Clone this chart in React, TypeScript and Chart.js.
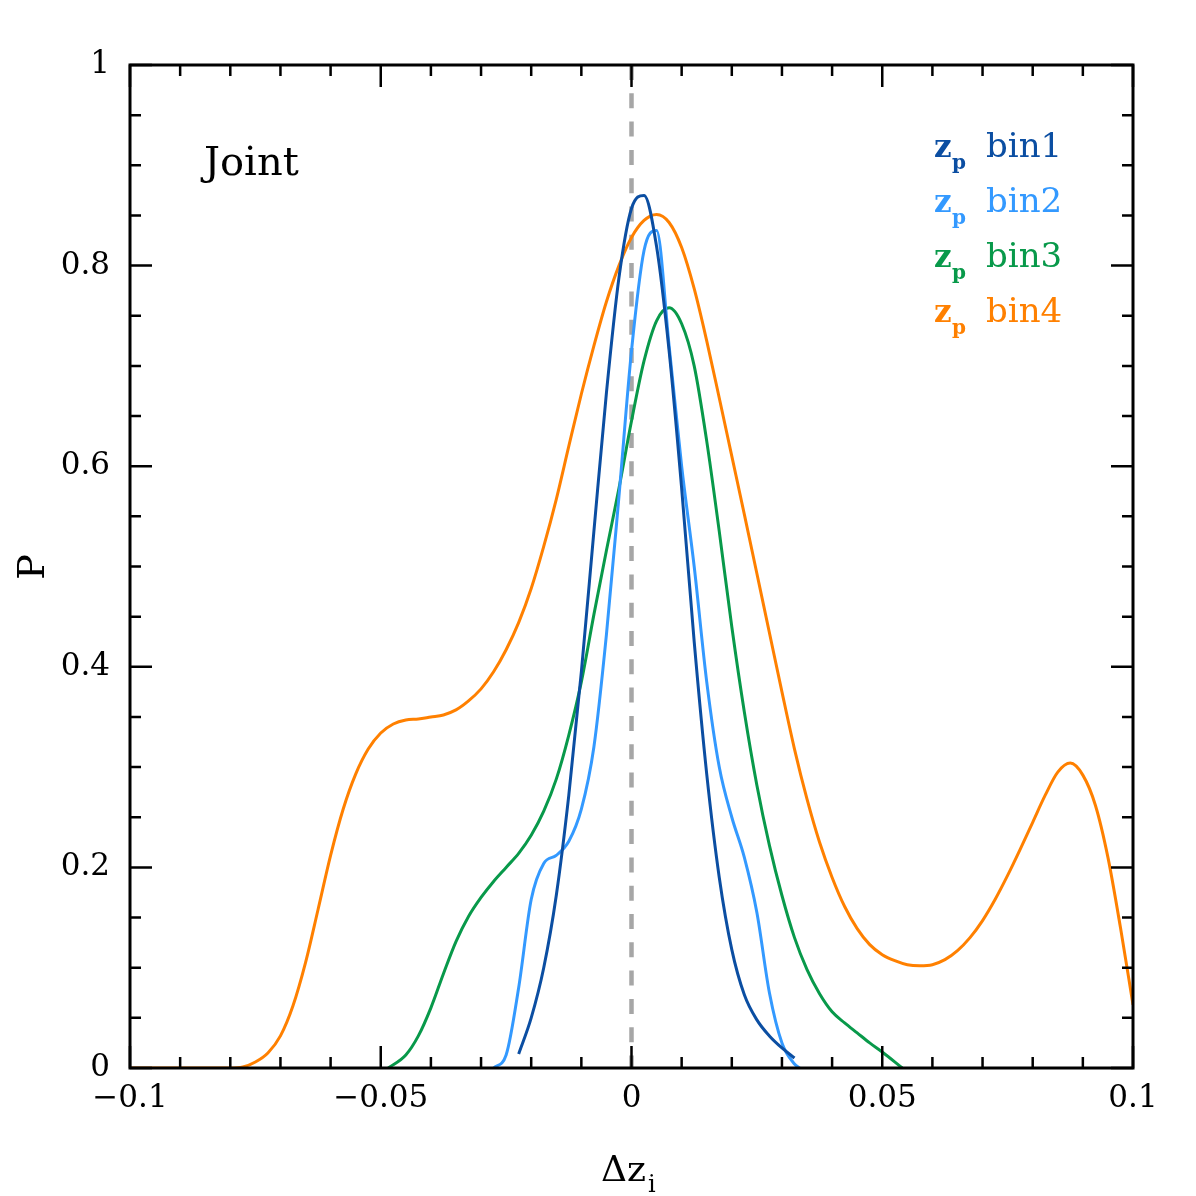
import React, { useEffect, useRef } from "react";
import { Chart, registerables } from "chart.js";

Chart.register(...registerables);

// ---- data ----
const bin1X = [-0.0225, -0.02, -0.0175, -0.015, -0.0125, -0.01, -0.0075, -0.005, -0.0025, 0, 0.0025, 0.005, 0.0075, 0.01, 0.0125, 0.015, 0.0175, 0.02, 0.0225, 0.025, 0.0275, 0.03, 0.0325];
const bin1Y = [0.014, 0.05, 0.1, 0.172, 0.272, 0.395, 0.535, 0.673, 0.788, 0.857, 0.87, 0.819, 0.715, 0.578, 0.425, 0.293, 0.19, 0.118, 0.073, 0.048, 0.032, 0.02, 0.01];

const bin2X = [-0.0275, -0.025, -0.0225, -0.02, -0.0175, -0.015, -0.0125, -0.01, -0.0075, -0.005, -0.0025, 0, 0.0025, 0.005, 0.0075, 0.01, 0.0125, 0.015, 0.0175, 0.02, 0.0225, 0.025, 0.0275, 0.03, 0.0325, 0.0335];
const bin2Y = [0, 0.013, 0.08, 0.168, 0.204, 0.212, 0.226, 0.258, 0.32, 0.432, 0.57, 0.715, 0.815, 0.835, 0.72, 0.6, 0.5, 0.385, 0.3, 0.25, 0.21, 0.155, 0.075, 0.025, 0.004, 0];

const bin3X = [-0.0485, -0.045, -0.0425, -0.04, -0.0375, -0.035, -0.0325, -0.03, -0.0275, -0.025, -0.0225, -0.02, -0.0175, -0.015, -0.0125, -0.01, -0.0075, -0.005, -0.0025, 0, 0.0025, 0.005, 0.0075, 0.01, 0.0125, 0.015, 0.0175, 0.02, 0.0225, 0.025, 0.0275, 0.03, 0.0325, 0.035, 0.0375, 0.04, 0.0425, 0.045, 0.0475, 0.05, 0.054];
const bin3Y = [0, 0.013, 0.032, 0.06, 0.094, 0.126, 0.151, 0.17, 0.186, 0.2, 0.214, 0.232, 0.256, 0.288, 0.332, 0.385, 0.452, 0.516, 0.578, 0.645, 0.705, 0.745, 0.758, 0.742, 0.7, 0.625, 0.535, 0.44, 0.355, 0.282, 0.222, 0.172, 0.13, 0.098, 0.074, 0.056, 0.045, 0.035, 0.025, 0.016, 0];

const bin4X = [-0.1, -0.0925, -0.085, -0.0825, -0.08, -0.0775, -0.075, -0.0725, -0.07, -0.0675, -0.065, -0.0625, -0.06, -0.0575, -0.055, -0.0525, -0.05, -0.0475, -0.045, -0.0425, -0.04, -0.0375, -0.035, -0.0325, -0.03, -0.0275, -0.025, -0.0225, -0.02, -0.0175, -0.015, -0.0125, -0.01, -0.0075, -0.005, -0.0025, 0, 0.0025, 0.005, 0.0075, 0.01, 0.0125, 0.015, 0.0175, 0.02, 0.0225, 0.025, 0.0275, 0.03, 0.0325, 0.035, 0.0375, 0.04, 0.0425, 0.045, 0.0475, 0.05, 0.0525, 0.055, 0.0575, 0.06, 0.0625, 0.065, 0.0675, 0.07, 0.0725, 0.075, 0.0775, 0.08, 0.0825, 0.085, 0.0875, 0.09, 0.0925, 0.095, 0.0975, 0.1];
const bin4Y = [0, 0, 0, 0, 0, 0.001, 0.006, 0.015, 0.032, 0.062, 0.105, 0.158, 0.212, 0.258, 0.293, 0.318, 0.334, 0.343, 0.347, 0.348, 0.35, 0.352, 0.357, 0.366, 0.378, 0.395, 0.417, 0.444, 0.478, 0.52, 0.567, 0.62, 0.672, 0.72, 0.764, 0.8, 0.828, 0.845, 0.851, 0.843, 0.818, 0.777, 0.725, 0.668, 0.61, 0.552, 0.493, 0.434, 0.375, 0.318, 0.268, 0.225, 0.19, 0.161, 0.139, 0.123, 0.113, 0.107, 0.103, 0.102, 0.103, 0.108, 0.117, 0.13, 0.147, 0.168, 0.192, 0.218, 0.245, 0.272, 0.295, 0.304, 0.292, 0.262, 0.21, 0.14, 0.063];

const refLineX = [0, 0];
const refLineY = [1, 0];

const seriesNames = ["bin1", "bin2", "bin3", "bin4"];
const seriesColors = ["#0B4EA2", "#3399FF", "#08994A", "#FF8000"];

const xTickValues = [-0.1, -0.05, 0, 0.05, 0.1];
const xTickLabels = ["\u22120.1", "\u22120.05", "0", "0.05", "0.1"];
const yTickValues = [0, 0.2, 0.4, 0.6, 0.8, 1];
const yTickLabels = ["0", "0.2", "0.4", "0.6", "0.8", "1"];

const FONT = "'DejaVu Serif', serif";

const zip = (xs: number[], ys: number[]) => xs.map((x, i) => ({ x, y: ys[i] }));

const overlay = {
  id: "overlay",
  afterDraw(chart: any) {
    const { ctx, chartArea, scales } = chart;
    const { left, right, top, bottom } = chartArea;
    const xs = scales.x;
    const ys = scales.y;
    ctx.save();
    ctx.strokeStyle = "#000";
    ctx.lineWidth = 2.5;
    ctx.lineCap = "butt";
    for (let i = -10; i <= 10; i++) {
      const px = xs.getPixelForValue(i / 100);
      const len = i % 5 === 0 ? 22 : 11;
      ctx.beginPath();
      ctx.moveTo(px, bottom);
      ctx.lineTo(px, bottom - len);
      ctx.moveTo(px, top);
      ctx.lineTo(px, top + len);
      ctx.stroke();
    }
    for (let i = 0; i <= 20; i++) {
      const py = ys.getPixelForValue(i / 20);
      const len = i % 4 === 0 ? 22 : 11;
      ctx.beginPath();
      ctx.moveTo(left, py);
      ctx.lineTo(left + len, py);
      ctx.moveTo(right, py);
      ctx.lineTo(right - len, py);
      ctx.stroke();
    }
    ctx.lineWidth = 3;
    ctx.strokeRect(left, top, right - left, bottom - top);

    ctx.fillStyle = "#000";
    ctx.textBaseline = "alphabetic";
    ctx.textAlign = "left";
    ctx.font = `40px ${FONT}`;
    ctx.fillText("Joint", 204, 175);

    seriesNames.forEach((name, i) => {
      const base = 157 + i * 55;
      ctx.fillStyle = seriesColors[i];
      ctx.font = `bold 31px ${FONT}`;
      ctx.fillText("z", 934, base);
      ctx.font = `bold 20px ${FONT}`;
      ctx.fillText("p", 952, base + 12);
      ctx.font = `34px ${FONT}`;
      ctx.fillText(name, 986, base);
    });

    ctx.fillStyle = "#000";
    ctx.font = `36px ${FONT}`;
    const main = "\u0394z";
    ctx.fillText(main, 601, 1181);
    const w = ctx.measureText(main).width;
    ctx.font = `24px ${FONT}`;
    ctx.fillText("i", 601 + w + 2, 1192);

    ctx.save();
    ctx.translate(44, 567);
    ctx.rotate(-Math.PI / 2);
    ctx.font = `38px ${FONT}`;
    ctx.textAlign = "center";
    ctx.fillText("P", 0, 0);
    ctx.restore();

    ctx.restore();
  },
};

export default function App() {
  const canvasRef = useRef<HTMLCanvasElement | null>(null);

  useEffect(() => {
    document.body.style.margin = "0";
    const canvas = canvasRef.current;
    if (!canvas) return;
    const lineDs = (label: string, xs: number[], ys: number[], color: string) => ({
      label,
      data: zip(xs, ys),
      borderColor: color,
      backgroundColor: color,
      borderWidth: 3,
      pointRadius: 0,
      showLine: true,
      fill: false,
      cubicInterpolationMode: "monotone" as const,
    });
    const chart = new Chart(canvas, {
      type: "scatter",
      data: {
        datasets: [
          lineDs(seriesNames[0], bin1X, bin1Y, seriesColors[0]),
          lineDs(seriesNames[1], bin2X, bin2Y, seriesColors[1]),
          lineDs(seriesNames[2], bin3X, bin3Y, seriesColors[2]),
          lineDs(seriesNames[3], bin4X, bin4Y, seriesColors[3]),
          {
            label: "ref",
            data: zip(refLineX, refLineY),
            borderColor: "#A6A6A6",
            borderWidth: 4.5,
            borderDash: [15, 13.3],
            pointRadius: 0,
            showLine: true,
            fill: false,
          },
        ],
      },
      options: {
        responsive: false,
        animation: false,
        devicePixelRatio: 1,
        layout: { padding: { left: 0, right: 63, top: 65, bottom: 0 } },
        plugins: { legend: { display: false }, tooltip: { enabled: false } },
        scales: {
          x: {
            type: "linear",
            min: -0.1,
            max: 0.1,
            grid: { display: false, drawTicks: false },
            border: { display: false },
            afterBuildTicks: (s: any) => {
              s.ticks = xTickValues.map((v) => ({ value: v }));
            },
            afterFit: (s: any) => {
              s.height = 128;
            },
            ticks: {
              padding: 12,
              maxRotation: 0,
              autoSkip: false,
              color: "#000",
              font: { family: FONT, size: 31 },
              callback: (_v: any, i: number) => xTickLabels[i],
            },
          },
          y: {
            type: "linear",
            min: 0,
            max: 1,
            grid: { display: false, drawTicks: false },
            border: { display: false },
            afterBuildTicks: (s: any) => {
              s.ticks = yTickValues.map((v) => ({ value: v }));
            },
            afterFit: (s: any) => {
              s.width = 130;
            },
            ticks: {
              padding: 20,
              autoSkip: false,
              color: "#000",
              font: { family: FONT, size: 31 },
              callback: (_v: any, i: number) => yTickLabels[i],
            },
          },
        },
      },
      plugins: [overlay],
    });
    return () => chart.destroy();
  }, []);

  return (
    <div style={{ position: "absolute", left: 0, top: 0, width: 1196, height: 1196, background: "#fff" }}>
      <canvas ref={canvasRef} width={1196} height={1196} style={{ width: 1196, height: 1196 }} />
    </div>
  );
}
